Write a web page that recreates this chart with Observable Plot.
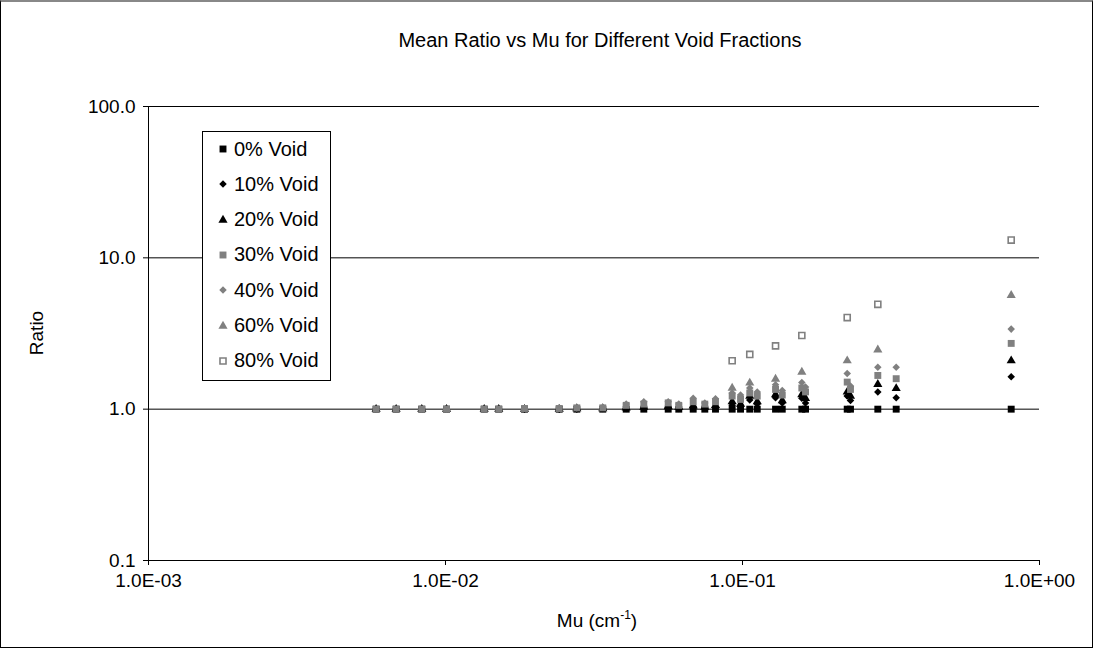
<!DOCTYPE html>
<html><head><meta charset="utf-8">
<script src="https://cdn.jsdelivr.net/npm/d3@7"></script>
<script src="https://cdn.jsdelivr.net/npm/@observablehq/plot@0.6"></script>
<style>
body{margin:0;background:#fff;font-family:"Liberation Sans",Arial,sans-serif;}
#wrap{position:relative;width:1094px;height:648px;overflow:hidden;background:#fff;}
#frame{position:absolute;left:0;top:0;width:1091px;height:645px;border:1px solid #000;border-top:2px solid #888;box-sizing:content-box;pointer-events:none;}
#title{position:absolute;left:0;width:1200px;top:29px;text-align:center;font-size:20px;color:#000;white-space:nowrap;}
#ylab{position:absolute;left:37px;top:333px;transform:translate(-50%,-50%) rotate(-90deg);font-size:19px;white-space:nowrap;}
#xlab{position:absolute;left:597px;top:621px;transform:translate(-50%,-50%);font-size:19px;white-space:nowrap;}
#xlab sup{font-size:12px;vertical-align:8px;line-height:0;}
#legend{position:absolute;left:202px;top:131px;width:127px;height:248px;border:1px solid #000;background:#fff;}
.li{position:absolute;left:0;height:30px;display:flex;align-items:center;font-size:20px;white-space:nowrap;}
.li svg{margin-left:13px;margin-right:4px;}
</style></head><body>
<div id="wrap"><div id="chart"></div>
<div id="title">Mean Ratio vs Mu for Different Void Fractions</div>
<div id="ylab">Ratio</div>
<div id="xlab">Mu (cm<sup>-1</sup>)</div>
<div id="legend"></div>
<div id="frame"></div>
</div>
<script>
// Mu values (cm^-1), shared x positions
const mu = [0.00584,0.00682,0.00832,0.01008,0.0135,0.01511,0.01845,0.02415,0.02768,0.03385,
            0.04059,0.04653,0.05621,0.06102,0.06823,0.07466,0.08111,
            0.0923,0.0985,0.1058,0.1121,0.1292,0.1361,0.1584,0.163,0.2252,0.231,0.2855,0.3292,0.803];
const seriesNames = ["0% Void","10% Void","20% Void","30% Void","40% Void","60% Void","80% Void"];
const void0  = [1,1,1,1,1,1,1,1,1,1, 1,1,1,1,1,1,1, 1,1,1,1,1,1,1,1,1,1,1,1,1];
const void10 = [1,1,1,1,1,1,1,1.0,1.0,1.01, 1.01,1.02,1.02,1.01,1.02,1.02,1.03, 1.06,1.04,1.15,1.08,1.19,1.10,1.18,1.10,1.22,1.14,1.30,1.19,1.64];
const void20 = [1,1,1,1,1,1,1,1.0,1.01,1.01, 1.02,1.03,1.04,1.03,1.05,1.03,1.06, 1.12,1.08,1.22,1.12,1.25,1.14,1.25,1.18,1.30,1.22,1.46,1.37,2.09];
const void30 = [1.0,1.0,1.0,1.0,1.0,1.0,1.01,1.01,1.02,1.02, 1.06,1.08,1.10,1.06,1.12,1.08,1.12, 1.22,1.16,1.28,1.22,1.35,1.24,1.38,1.30,1.51,1.35,1.67,1.59,2.72];
const void40 = [1.0,1.0,1.0,1.0,1.0,1.0,1.01,1.02,1.02,1.03, 1.08,1.12,1.12,1.08,1.18,1.10,1.17, 1.28,1.24,1.38,1.30,1.45,1.33,1.50,1.40,1.72,1.42,1.89,1.89,3.38];
const void60 = [null,null,null,null,null,null,null,null,null,null, null,null,null,null,null,null,null, 1.38,null,1.49,null,1.58,null,1.76,null,2.09,null,2.47,null,5.65];
const void80 = [null,null,null,null,null,null,null,null,null,null, null,null,null,null,null,null,null, 2.09,null,2.30,null,2.62,null,3.07,null,4.03,null,4.93,null,13.1];
const xTicks = [0.001,0.01,0.1,1];
const yTicks = [0.1,1,10,100];

const seriesValues = [void0,void10,void20,void30,void40,void60,void80];
const styles = [
  {symbol:"square",  fill:"#000", stroke:"none", r:3.9, sw:0},
  {symbol:"diamond2",fill:"#000", stroke:"none", r:3.4, sw:0},
  {symbol:"triangle",fill:"#000", stroke:"none", r:3.4, sw:0},
  {symbol:"square",  fill:"#808080", stroke:"none", r:3.9, sw:0},
  {symbol:"diamond2",fill:"#808080", stroke:"none", r:3.4, sw:0},
  {symbol:"triangle",fill:"#808080", stroke:"none", r:3.4, sw:0},
  {symbol:"square",  fill:"#fff", stroke:"#808080", r:3.4, sw:1.6}
];

const rows = seriesNames.map((name,i)=>mu.map((m,j)=>({series:name, mu:m, ratio:seriesValues[i][j]})).filter(d=>d.ratio!=null));

const fmtX = d => { const e = Math.round(Math.log10(d)); return "1.0E" + (e<0?"-":"+") + String(Math.abs(e)).padStart(2,"0"); };

const chart = Plot.plot({
  width:1094, height:648,
  marginLeft:148, marginRight:55, marginTop:106, marginBottom:88,
  style:{fontFamily:"'Liberation Sans', Arial, sans-serif", fontSize:"19px", color:"#000", background:"transparent"},
  x:{type:"log", domain:[0.001,1], ticks:xTicks, tickFormat:fmtX, tickSize:5, tickPadding:8, label:null},
  y:{type:"log", domain:[0.1,100], ticks:yTicks, tickFormat:d3.format(".1f"), tickSize:5, tickPadding:8, label:null},
  marks:[
    Plot.ruleY(yTicks.slice(1), {stroke:"#000", strokeWidth:1}),
    Plot.ruleX([xTicks[0]], {stroke:"#000"}),
    Plot.ruleY([yTicks[0]], {stroke:"#000"}),
    ...rows.map((data,i)=>Plot.dot(data, {x:"mu", y:"ratio", symbol:styles[i].symbol, fill:styles[i].fill, stroke:styles[i].stroke, strokeWidth:styles[i].sw, r:styles[i].r}))
  ]
});
document.getElementById("chart").appendChild(chart);

// legend
const leg = document.getElementById("legend");
const symMap = {square:d3.symbolSquare, diamond2:d3.symbolDiamond2, triangle:d3.symbolTriangle};
seriesNames.forEach((name,i)=>{
  const s = styles[i];
  const div = document.createElement("div");
  div.className = "li";
  div.style.top = (2 + i*35.3) + "px";
  const path = d3.symbol(symMap[s.symbol], Math.PI*s.r*s.r)();
  div.innerHTML = `<svg width="14" height="14" viewBox="-7 -7 14 14"><path d="${path}" fill="${s.fill}" stroke="${s.stroke}" stroke-width="${s.sw}"/></svg><span>${name}</span>`;
  leg.appendChild(div);
});
</script>
</body></html>
